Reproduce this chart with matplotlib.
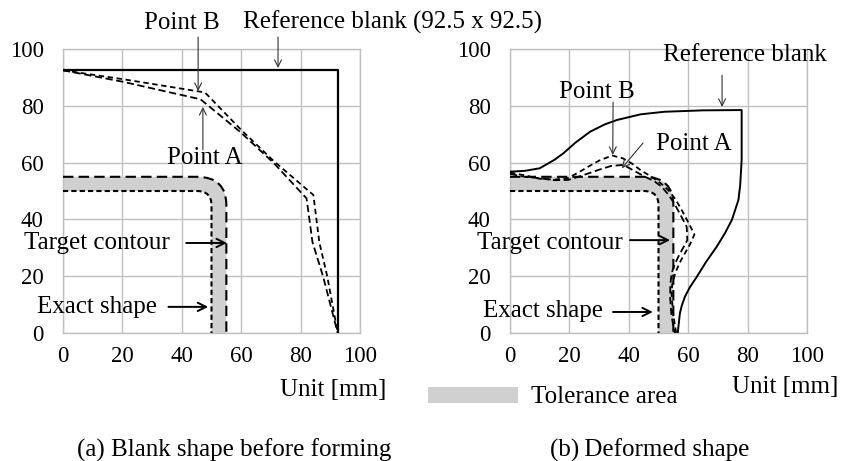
import numpy as np
import matplotlib
matplotlib.use('Agg')
from matplotlib import pyplot as plt
from matplotlib.path import Path
from matplotlib.patches import PathPatch, Rectangle

plt.rcParams['font.family'] = ['Liberation Serif', 'DejaVu Serif']

# ---- data ----
ticks = [0, 20, 40, 60, 80, 100]

# target contour (outer) and exact shape (inner), corner control points
target_pts = [(0, 55), (45, 55), (55, 55), (55, 45), (55, 0)]
exact_pts = [(0, 50), (45, 50), (50, 50), (50, 45), (50, 0)]

# (a) blank shape before forming
ref_a_x = [0, 92.5, 92.5]
ref_a_y = [92.5, 92.5, 0]
ptB_a_x = [0, 20, 47.8, 60, 71, 84.3, 86.3, 89, 92.5]
ptB_a_y = [92.5, 89.4, 84.7, 71.5, 60.5, 48.6, 32, 19.8, 0]
ptA_a_x = [0, 20, 46.3, 60, 71, 82, 84, 87.6, 92.5]
ptA_a_y = [92.5, 88.5, 82.3, 70.5, 59.8, 47.4, 32, 19.8, 0]

# (b) deformed shape
ref_b_x = [0, 5, 10, 15, 18, 22, 27, 32, 36, 44, 52, 65, 78,
           78, 77.5, 76.9, 74.7, 72.3, 69.6, 66, 62.9, 60.5, 58.9, 57.8, 57.2, 56.7, 56.5]
ref_b_y = [56.8, 57.1, 58, 61, 63.3, 67, 70.9, 73.5, 75, 77, 77.9, 78.4, 78.5,
           61, 52, 46.8, 39.8, 35, 30.4, 25, 19.8, 16, 12.8, 9.5, 6.9, 2.2, 0]
ptB_b_x = [0, 5, 10, 15, 19.6, 23, 26.4, 30, 34.4, 38, 41, 44, 47.7, 51, 53.3, 55.8,
           57.8, 60, 62.1, 60.5, 58.9, 57, 55.6, 54.6, 54.4, 54.8, 55.6, 56]
ptB_b_y = [56.5, 55.5, 54.3, 54, 54.6, 56.5, 58.6, 60.7, 62.5, 61.5, 59.7, 57.3, 55, 52.5, 50.3, 47,
           43.3, 39, 34.7, 31, 28.1, 24.5, 21, 17, 14, 8, 2.2, 0]
ptA_b_x = [0, 5, 10, 15, 19.6, 23, 26.4, 30, 34, 38.2, 42, 45.5, 48.5, 51.1, 53.5, 55.6,
           57.7, 59.5, 59.7, 58.2, 56.7, 55.4, 54.4, 54, 53.9, 54.3, 55, 55.5]
ptA_b_y = [56, 55, 54.5, 53.8, 53.9, 55, 56.2, 57.5, 58.8, 59.2, 57, 55, 53.5, 51.5, 48.5, 45.1,
           41, 37.4, 32.7, 29.8, 26.9, 24, 21, 17, 12.8, 7, 2.2, 0]

grid_c = '#c0c0c0'
tol_c = '#d0d0d0'
fs = 18      # annotation / caption text
fs_tick = 16.5

codes = [Path.MOVETO, Path.LINETO, Path.CURVE3, Path.CURVE3, Path.LINETO]


def contour_path(pts):
    return Path(pts, codes)


def tolerance_path(outer, inner):
    inner_rev = inner[::-1]
    verts = list(outer) + list(inner_rev) + [outer[0]]
    c = [Path.MOVETO, Path.LINETO, Path.CURVE3, Path.CURVE3, Path.LINETO,
         Path.LINETO, Path.LINETO, Path.CURVE3, Path.CURVE3, Path.LINETO, Path.CLOSEPOLY]
    return Path(verts, c)


fig = plt.figure(figsize=(8.54, 4.61), dpi=100)
W, H = 854, 461
ax1 = fig.add_axes([63 / W, (H - 333) / H, 297 / W, 284 / H])
ax2 = fig.add_axes([510 / W, (H - 333) / H, 297 / W, 284 / H])

for ax in (ax1, ax2):
    ax.set_xlim(0, 100)
    ax.set_ylim(0, 100)
    ax.set_xticks(ticks)
    ax.set_yticks(ticks)
    ax.grid(True, color=grid_c, lw=1)
    ax.set_axisbelow(True)
    ax.tick_params(length=0, labelsize=fs_tick)
    ax.tick_params(axis='x', pad=9)
    ax.tick_params(axis='y', pad=14)
    for s in ax.spines.values():
        s.set_color(grid_c)
        s.set_linewidth(1)
    ax.add_patch(PathPatch(tolerance_path(target_pts, exact_pts), facecolor=tol_c,
                           edgecolor='none', zorder=1))
    ax.add_patch(PathPatch(contour_path(target_pts), fill=False, ec='black', lw=1.5,
                           ls=(0, (5, 2.5)), zorder=3))
    ax.add_patch(PathPatch(contour_path(exact_pts), fill=False, ec='black', lw=1.5,
                           ls=(0, (2.5, 1.5)), zorder=3))

# (a)
ax1.plot(ref_a_x, ref_a_y, color='black', lw=1.6, zorder=4)
ax1.plot(ptB_a_x, ptB_a_y, color='black', lw=1.3, ls=(0, (3, 2)), zorder=4)
ax1.plot(ptA_a_x, ptA_a_y, color='black', lw=1.3, ls=(0, (4, 2)), zorder=4)

# (b)
ax2.plot(ref_b_x, ref_b_y, color='black', lw=1.4, zorder=4)
ax2.plot(ptB_b_x, ptB_b_y, color='black', lw=1.3, ls=(0, (3, 2)), zorder=4)
ax2.plot(ptA_b_x, ptA_b_y, color='black', lw=1.3, ls=(0, (4, 2)), zorder=4)

thin = dict(arrowstyle='->, head_length=0.5, head_width=0.25', color='#333333', lw=0.8,
            shrinkA=0, shrinkB=0)
thick = dict(arrowstyle='->, head_length=0.6, head_width=0.3', color='black', lw=1.4,
             shrinkA=0, shrinkB=0)


def label(ax, text, tx, ty, tail, tip, arrow):
    ax.text(tx, ty, text, fontsize=fs, ha='center', va='center', zorder=6, clip_on=False)
    ax.annotate('', xy=tip, xytext=tail, arrowprops=arrow, annotation_clip=False, zorder=6)


label(ax1, 'Point B', 40.1, 109.2, (45.5, 104.2), (45.5, 85.2), thin)
label(ax1, 'Reference blank (92.5 x 92.5)', 111.1, 109.5, (72.4, 104.2), (72.4, 93.3), thin)
label(ax1, 'Point A', 47.8, 61.6, (47.1, 64.5), (47.1, 79.6), thin)
label(ax1, 'Target contour', 11.3, 31.7, (41.5, 31.7), (55.2, 31.7), thick)
label(ax1, 'Exact shape', 11.6, 9.2, (35.5, 9.2), (48.9, 9.2), thick)

label(ax2, 'Reference blank', 79.1, 97.9, (71.4, 90.8), (71.4, 79.6), thin)
label(ax2, 'Point B', 29.3, 84.9, (34.7, 81.3), (34.6, 62.7), thin)
label(ax2, 'Point A', 62, 66.5, (44.8, 66.9), (37.6, 58), thin)
label(ax2, 'Target contour', 13.5, 31.7, (40.4, 32.7), (53.9, 32.7), thick)
label(ax2, 'Exact shape', 11.1, 7.7, (34.7, 7.4), (48.1, 7.4), thick)


# axis unit labels, legend, captions (figure pixel positions)
def fpx(x, y):
    return x / W, (H - y) / H


fig.text(*fpx(333, 390), 'Unit [mm]', fontsize=fs, ha='center', va='center')
fig.text(*fpx(785, 387), 'Unit [mm]', fontsize=fs, ha='center', va='center')
x0, y0 = fpx(428, 403)
fig.patches.append(Rectangle((x0, y0), 90 / W, 16 / H, transform=fig.transFigure,
                             facecolor=tol_c, edgecolor='none'))
fig.text(*fpx(531, 397), 'Tolerance area', fontsize=fs, ha='left', va='center')
fig.text(*fpx(234, 450), '(a) Blank shape before forming', fontsize=fs, ha='center', va='center')
fig.text(*fpx(650, 450), '(b)\u2009Deformed shape', fontsize=fs, ha='center', va='center')

fig.savefig('out.png', dpi=100)
